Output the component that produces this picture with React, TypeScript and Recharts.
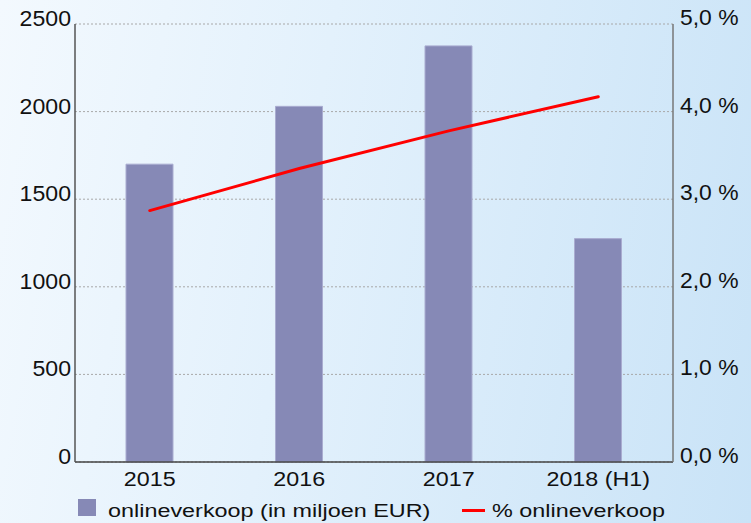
import React from "react";
import { ComposedChart, Bar, Line, XAxis, YAxis, CartesianGrid } from "recharts";

const categories = ["2015", "2016", "2017", "2018 (H1)"];
const salesValues = [1700, 2030, 2375, 1275];
const shareValues = [2.87, 3.35, 3.78, 4.17];
const leftTicks = [0, 500, 1000, 1500, 2000, 2500];
const rightTicks = [0, 1, 2, 3, 4, 5];
const legendLabels = ["onlineverkoop (in miljoen EUR)", "% onlineverkoop"];

const data = categories.map((c, i) => ({ cat: c, sales: salesValues[i], share: shareValues[i] }));

const REG = "'Liberation Sans', Arial, sans-serif";

const fmtPct = (v: number) => v.toFixed(1).replace(".", ",") + " %";

const LeftTick = (p: any) => (
  <text
    transform={`translate(${p.x - 4},${p.y + 2}) scale(1.05,1)`}
    textAnchor="end"
    fontFamily={REG}
    fontSize={22}
    fill="#111"
  >
    {p.payload.value}
  </text>
);
const RightTick = (p: any) => (
  <text
    transform={`translate(${p.x + 7},${p.y + 1}) scale(1.04,1)`}
    textAnchor="start"
    fontFamily={REG}
    fontSize={22}
    fill="#111"
  >
    {fmtPct(p.payload.value)}
  </text>
);
const BottomTick = (p: any) => (
  <text
    transform={`translate(${p.x},${p.y + 24}) scale(1.11,1)`}
    textAnchor="middle"
    fontFamily={REG}
    fontSize={21}
    fill="#111"
  >
    {p.payload.value}
  </text>
);

export default function App() {
  return (
    <div
      style={{
        position: "fixed",
        left: 0,
        top: 0,
        width: 751,
        height: 523,
        background: "linear-gradient(100deg, #f3f9fe 0%, #e3f1fc 40%, #c9e3f7 100%)",
        overflow: "hidden",
      }}
    >
      <ComposedChart width={751} height={523} data={data} margin={{ top: 24, right: 0, bottom: 0, left: 0 }} barCategoryGap={0}>
        <CartesianGrid vertical={false} stroke="#a8a8a8" strokeDasharray="2 2" yAxisId="left" />
        <XAxis
          dataKey="cat"
          height={61}
          tickSize={0}
          tickMargin={0}
          tickLine={false}
          axisLine={{ stroke: "#444", strokeWidth: 1.5 }}
          tick={BottomTick}
          interval={0}
        />
        <YAxis
          yAxisId="left"
          orientation="left"
          width={75}
          domain={[0, 2500]}
          ticks={leftTicks}
          tickSize={0}
          tickMargin={0}
          tickLine={false}
          axisLine={{ stroke: "#555", strokeWidth: 1.5 }}
          tick={LeftTick}
          interval={0}
        />
        <YAxis
          yAxisId="right"
          orientation="right"
          width={78}
          domain={[0, 5]}
          ticks={rightTicks}
          tickSize={0}
          tickMargin={0}
          tickLine={false}
          axisLine={{ stroke: "#777", strokeWidth: 1.5 }}
          tick={RightTick}
          interval={0}
        />
        <Bar yAxisId="left" dataKey="sales" fill="#8689b6" stroke="#a9acd0" strokeWidth={1} barSize={47} isAnimationActive={false} />
        <Line
          yAxisId="right"
          dataKey="share"
          stroke="#ff0000"
          strokeWidth={3}
          dot={false}
          activeDot={false}
          strokeLinecap="round"
          type="linear"
          isAnimationActive={false}
        />
      </ComposedChart>
      <svg width={751} height={523} style={{ position: "absolute", left: 0, top: 0, pointerEvents: "none" }}>
        <rect x={78} y={499} width={18} height={17} fill="#8689b6" />
        <text transform="translate(108,516.5) scale(1.265,1)" fontFamily={REG} fontSize={18.5} fill="#111">
          {legendLabels[0]}
        </text>
        <rect x={462} y={509} width={23} height={3} fill="#ff0000" />
        <text transform="translate(492,516.5) scale(1.265,1)" fontFamily={REG} fontSize={18.5} fill="#111">
          {legendLabels[1]}
        </text>
      </svg>
    </div>
  );
}
